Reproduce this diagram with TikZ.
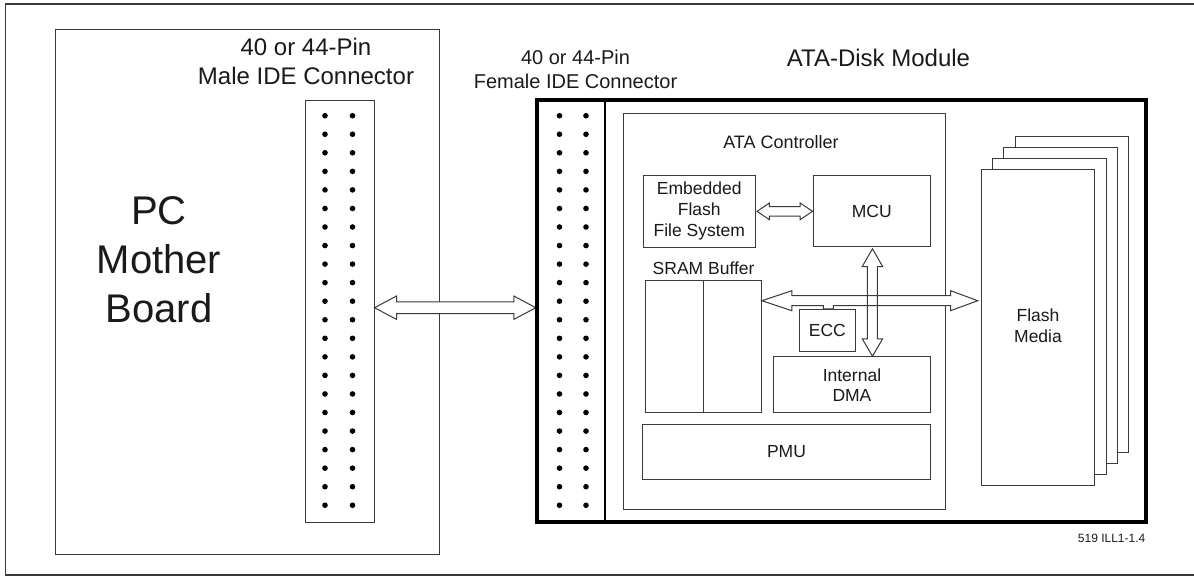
\documentclass[tikz,border=0pt]{standalone}
\usepackage{fontspec}
\setmainfont{Liberation Sans}
\usetikzlibrary{calc}
\definecolor{linec}{HTML}{3A3A3A}
\definecolor{textc}{HTML}{1A1A1A}
\newcommand\fs[2]{\fontsize{#1}{#2}\selectfont}
\tikzset{
  box/.style={draw=linec, line width=1pt, fill=white, inner sep=0pt, rectangle, text=textc},
  lbl/.style={inner sep=0pt, text=textc},
  dblarrow/.style={draw=linec, line width=1pt, fill=white, line join=miter},
  pin/.style={fill=black},
}
% horizontal double arrow: #1 left point, #2 right point, #3 shaft half width, #4 head half width, #5 head length, #6 style
\newcommand\hdbl[6]{%
  \path[#6] let \p1=#1, \p2=#2 in
    (\x1,\y1) -- (\x1+#5pt,\y1+#4pt) -- (\x1+#5pt,\y1+#3pt) -- (\x2-#5pt,\y1+#3pt)
    -- (\x2-#5pt,\y1+#4pt) -- (\x2,\y1) -- (\x2-#5pt,\y1-#4pt) -- (\x2-#5pt,\y1-#3pt)
    -- (\x1+#5pt,\y1-#3pt) -- (\x1+#5pt,\y1-#4pt) -- cycle;}
\begin{document}
\begin{tikzpicture}[x=1pt,y=-1pt]
\useasboundingbox (0,0) rectangle (1194,576);
% outer frame (open on the right)
\draw[linec, line width=1.5pt] (1194,4) -- (5.7,4) -- (5.7,575) -- (1194,575);

% PC mother board
\node[box, minimum width=383.5pt, minimum height=524.7pt] (pc) at (247.25,291.65) {};
\node[lbl, align=center, font=\fs{40}{48.8}, anchor=north] (pctext) at (159,196.7) {PC\\Mother\\Board};

% male connector
\node[box, minimum width=69pt, minimum height=422pt] (male) at (339.5,311) {};
\node[lbl, align=center, font=\fs{24}{29}, anchor=north] (malelbl) at (306,38.3) {40 or 44-Pin\\Male IDE Connector};
\foreach \i in {0,...,21} {
  \fill[pin] ({325},{115.7+18.55*\i}) circle (2.8pt);
  \fill[pin] ({352.5},{115.7+18.55*\i}) circle (2.8pt);
}

% connector-to-connector bus
\coordinate (busy) at (0,307.7);
\node[draw=black, line width=2.4pt, minimum width=68pt, minimum height=422pt, inner sep=0pt] (female) at (571,311) {};
\hdbl{(male.east |- busy)}{(female.west |- busy)}{5.8}{11.7}{22}{dblarrow}

% female connector / module
\node[draw=black, line width=3.5pt, minimum width=609pt, minimum height=422pt, inner sep=0pt] (module) at (841.5,311) {};
\node[lbl, align=center, font=\fs{20}{24.3}, anchor=north] (femlbl) at (575.5,50) {40 or 44-Pin\\Female IDE Connector};
\node[lbl, font=\fs{24}{29}, anchor=base] (modlbl) at (878.5,66.7) {ATA-Disk Module};
\foreach \i in {0,...,21} {
  \fill[pin] ({559.5},{115.7+18.55*\i}) circle (2.8pt);
  \fill[pin] ({586},{115.7+18.55*\i}) circle (2.8pt);
}

% ATA controller
\node[box, minimum width=322pt, minimum height=396pt] (ctrl) at (784.5,311) {};
\node[lbl, font=\fs{18}{21}, anchor=base] (ctrllbl) at (781,148.3) {ATA Controller};

\node[box, minimum width=111.5pt, minimum height=71.3pt, align=center, font=\fs{17.5}{20.9}] (effs) at (699.3,211.35) {Embedded\\Flash\\File System};
\node[box, minimum width=117.5pt, minimum height=70.8pt, font=\fs{17.5}{21}] (mcu) at (871.75,211.1) {MCU};
\hdbl{([xshift=1.5pt]effs.east)}{(mcu.west)}{4.8}{8.3}{12.3}{dblarrow}

\node[lbl, font=\fs{17.5}{21}, anchor=base] (sramlbl) at (703.6,274) {SRAM Buffer};
\node[box, minimum width=116.4pt, minimum height=132.7pt] (sram) at (703.2,346.35) {};
\draw[linec, line width=1pt] (sram.north) -- (sram.south);

\node[box, minimum width=56.2pt, minimum height=41.9pt, font=\fs{17.5}{21}] (ecc) at (827.4,330.25) {ECC};
\node[box, minimum width=157.1pt, minimum height=56pt, align=center, font=\fs{17.5}{20}] (dma) at (851.95,384.7) {Internal\\DMA};
\node[box, minimum width=288.1pt, minimum height=55pt, font=\fs{17.5}{21}] (pmu) at (786.45,451.5) {PMU};

% flash media stack
\foreach \k in {3,2,1} {
  \node[box, minimum width=113.6pt, minimum height=316pt] (sheet\k) at ({1037.8+11.45*\k},{327.3-11.1*\k}) {};
}
\node[box, minimum width=113.6pt, minimum height=316pt] (flash) at (1037.8,327.3) {};
\node[lbl, align=center, font=\fs{17.5}{20.6}, anchor=north] (flashlbl) at (1038,309) {Flash\\Media};

% internal bus SRAM <-> Flash with stub to ECC
\coordinate (busline) at (0,300.7);
\draw[dblarrow] let \p1=(sram.east |- busline), \p2=(flash.west |- busline), \p3=(ecc.north) in
  (\x1,\y1) -- (\x1+30pt,\y1+10pt) -- (\x1+30pt,\y1+5pt) -- (\x2-30pt,\y1+5pt)
  -- (\x2-30pt,\y1+10pt) -- (\x2-2.7pt,\y1) -- (\x2-30pt,\y1-10pt) -- (\x2-30pt,\y1-5pt)
  -- (\x3+5.9pt,\y1-5pt) -- (\x3+5.9pt,\y3) -- (\x3-4.1pt,\y3) -- (\x3-4.1pt,\y1-5pt)
  -- (\x1+30pt,\y1-5pt) -- (\x1+30pt,\y1-10pt) -- cycle;

% MCU <-> internal DMA
\draw[dblarrow, fill=none] let \p1=(mcu.south), \p2=(dma.north) in
  (\x1+0.7pt,\y1-1.8pt) -- (\x1+10.9pt,\y1-19.5pt) -- (\x1+5.7pt,\y1-19.5pt) -- (\x1+5.7pt,\y2+17.4pt)
  -- (\x1+10.9pt,\y2+17.4pt) -- (\x1+0.7pt,\y2) -- (\x1-9.5pt,\y2+17.4pt) -- (\x1-4.3pt,\y2+17.4pt)
  -- (\x1-4.3pt,\y1-19.5pt) -- (\x1-9.5pt,\y1-19.5pt) -- cycle;

\node[lbl, font=\fs{12}{14}, anchor=base east] (ref) at (1145.5,542) {519 ILL1-1.4};
\end{tikzpicture}
\end{document}
